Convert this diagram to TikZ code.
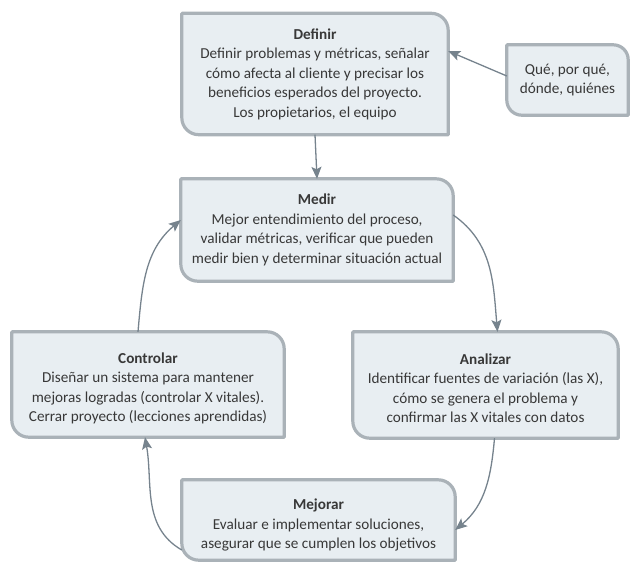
\documentclass[tikz,border=0pt]{standalone}
\usepackage{fontspec}
\setmainfont{Carlito}
\usetikzlibrary{arrows.meta,backgrounds,calc}

\definecolor{panelfill}{HTML}{E8EEF2}
\definecolor{panelline}{HTML}{AAB2B8}
\definecolor{arrowgray}{HTML}{76838D}
\definecolor{textgray}{HTML}{383838}

\tikzset{
  txt/.style={align=center, text=textgray, font=\fontsize{15.2}{19.5}\selectfont,
              inner sep=0pt},
  panel/.style={fill=panelfill, draw=panelline, line width=3.2pt, line join=round},
  flow/.style={draw=arrowgray, line width=1.3pt,
               -{Stealth[length=12pt,width=10pt,inset=2.5pt]}},
}

% Box with rounded upper-right and lower-left corners around a rectangle node
\newcommand\panelbox[2][17pt]{%
  \path[panel] (#2.north west) -- ([xshift=-#1]#2.north east)
    arc[start angle=90,end angle=0,radius=#1] -- (#2.south east)
    -- ([xshift=#1]#2.south west) arc[start angle=270,end angle=180,radius=#1]
    -- cycle;}

\begin{document}
\begin{tikzpicture}[x=1pt,y=-1pt]
\useasboundingbox (0,0) rectangle (631,565);

% frames (only geometry, text placed separately)
\node[rectangle, minimum width=266pt, minimum height=121pt] (def) at (315,74) {};
\node[rectangle, minimum width=121pt, minimum height=70pt] (que) at (567.5,80) {};
\node[rectangle, minimum width=272pt, minimum height=102pt] (med) at (317,230) {};
\node[rectangle, minimum width=272pt, minimum height=105pt] (con) at (148,384.5) {};
\node[rectangle, minimum width=265pt, minimum height=106pt] (ana) at (485.5,385) {};
\node[rectangle, minimum width=273pt, minimum height=80pt] (mej) at (318.5,520) {};

\begin{scope}[on background layer]
  \panelbox{def}
  \panelbox[15pt]{que}
  \panelbox{med}
  \panelbox{con}
  \panelbox{ana}
  \panelbox{mej}
\end{scope}

% texts
\node[txt] (tdef) at (def) {\textbf{Definir}\\Definir problemas y métricas, señalar\\cómo afecta al cliente y precisar los\\beneficios esperados del proyecto.\\Los propietarios, el equipo};
\node[txt] (tque) at (que) {Qué, por qué,\\dónde, quiénes};
\node[txt] (tmed) at (med) {\textbf{Medir}\\Mejor entendimiento del proceso,\\validar métricas, verificar que pueden\\medir bien y determinar situación actual};
\node[txt] (tcon) at ([yshift=-4pt]con.center) {\textbf{Controlar}\\Diseñar un sistema para mantener\\mejoras logradas (controlar X vitales).\\Cerrar proyecto (lecciones aprendidas)};
\node[txt] (tana) at ([yshift=-3pt]ana.center) {\textbf{Analizar}\\Identificar fuentes de variación (las X),\\cómo se genera el problema y\\confirmar las X vitales con datos};
\node[txt] (tmej) at ([yshift=-5pt]mej.center) {\textbf{Mejorar}\\Evaluar e implementar soluciones,\\asegurar que se cumplen los objetivos};

% connectors
\draw[flow] ([yshift=4pt]que.west) -- ([yshift=23pt]def.east);
\draw[flow] (def.south) -- (med.north);
\draw[flow] ([yshift=15pt]med.east) to[out=-35,in=95] ([xshift=12pt]ana.north);
\draw[flow] ([xshift=9pt]ana.south) to[out=-95,in=40] ([yshift=-10pt]mej.east);
\draw[flow] ([yshift=-30pt]mej.west) to[out=150,in=-80] ([xshift=-3pt]con.south);
\draw[flow] ([xshift=-10pt]con.north) to[out=85,in=-140] ([yshift=10pt]med.west);
\end{tikzpicture}
\end{document}
